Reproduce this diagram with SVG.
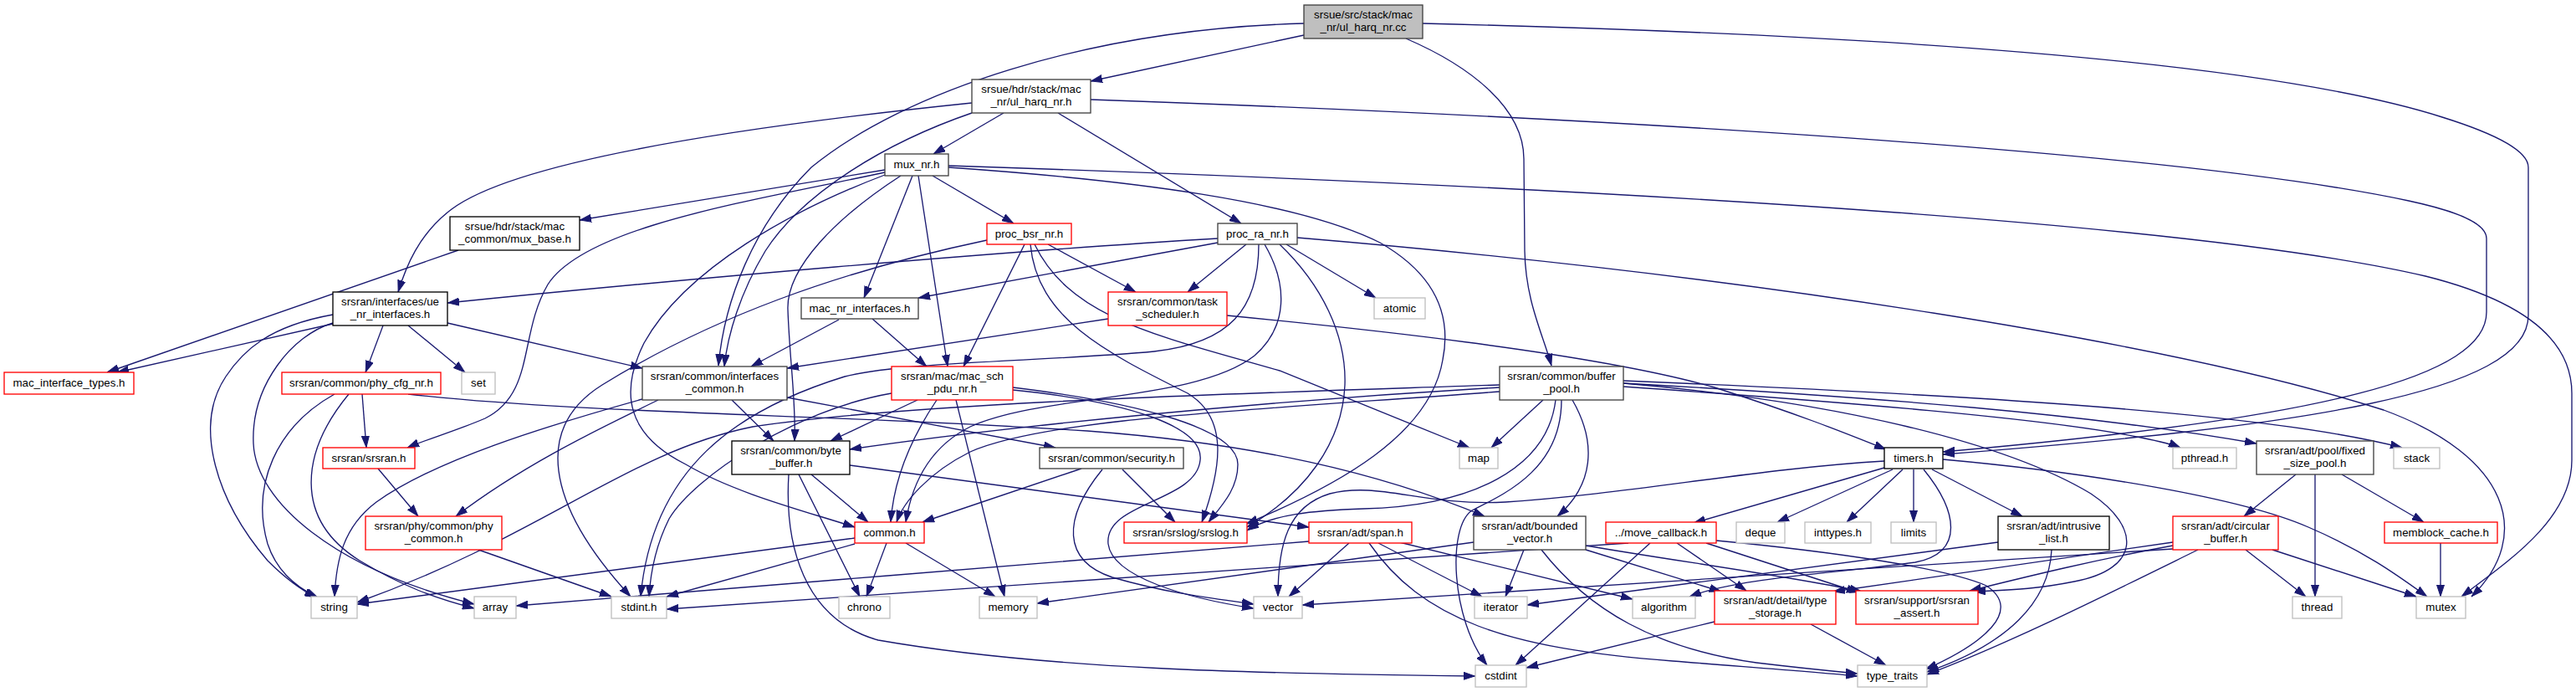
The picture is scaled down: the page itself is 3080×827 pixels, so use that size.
<svg xmlns="http://www.w3.org/2000/svg" width="3080" height="827" viewBox="0 0 3080 827">
<defs>
<style>
.n rect{fill:#fff;stroke:#404040;stroke-width:1.33}
.k rect{stroke:#000}
.r rect{stroke:#f00}
.g rect{stroke:#bfbfbf}
.root rect{fill:#bfbfbf;stroke:#404040}
text{font-family:"Liberation Sans",Arial,Helvetica,sans-serif;font-size:13.33px;text-anchor:middle;fill:#000}
#edges path{fill:none;stroke:#191970;stroke-width:1.33;marker-end:url(#ah)}
</style>
<marker id="ah" markerWidth="14" markerHeight="10" refX="14" refY="5" orient="auto" markerUnits="userSpaceOnUse"><path d="M0,0.5 L13.5,5 L0,9.5 Z" fill="#191970" stroke="#191970" stroke-width="1"/></marker>
</defs>
<rect width="3080" height="827" fill="#fff"/>
<g id="edges">
<path d="M1559,42 L1304,97"/>
<path d="M1559,28 C1300,35 1080,110 970,200 C900,270 866,360 859,437"/>
<path d="M1681,46 C1760,80 1822,130 1822,190 L1823,300 C1824,360 1845,400 1855,437"/>
<path d="M1701,28 C2200,40 2700,70 2920,140 C3000,165 3023,185 3023,200 L3023,377 C3023,470 2750,510 2323,543"/>
<path d="M1200,135 L1116,184"/>
<path d="M1265,135 L1484,267"/>
<path d="M1162,123 C900,150 620,190 540,250 C500,280 485,320 476,349"/>
<path d="M1162,135 C1060,170 960,230 915,300 C885,350 870,400 866,438"/>
<path d="M1304,119 C1900,140 2600,180 2880,240 C2950,255 2973,270 2973,285 L2973,373 C2973,450 2780,500 2323,540"/>
<path d="M1058,203 L693,263"/>
<path d="M1058,206 C900,240 700,270 655,340 C620,400 640,470 580,500 C545,515 510,525 487,535"/>
<path d="M1058,209 C950,250 820,320 770,410 C740,470 750,520 820,555 C880,590 960,610 1022,630"/>
<path d="M1077,210 C1000,260 940,320 942,370 C944,430 952,480 950,527"/>
<path d="M1091,210 L1033,356"/>
<path d="M1098,210 L1133,438"/>
<path d="M1115,210 L1212,267"/>
<path d="M1134,200 C1350,215 1550,240 1650,290 C1720,330 1735,380 1725,430 C1710,520 1600,580 1490,626"/>
<path d="M1134,198 C1800,220 2600,260 2900,330 C3040,365 3075,420 3075,470 L3075,550 C3075,620 3000,670 2943,713"/>
<path d="M1253,292 L1358,349"/>
<path d="M1225,292 L1152,438"/>
<path d="M1180,287 C1000,325 850,380 720,460 C640,510 650,600 754,713"/>
<path d="M1237,292 C1280,380 1380,400 1530,443 L1757,535"/>
<path d="M1232,292 C1240,380 1320,420 1420,470 C1470,500 1460,560 1437,624"/>
<path d="M1490,292 L1420,349"/>
<path d="M1456,290 L1098,356"/>
<path d="M1456,285 C1200,300 800,335 535,362"/>
<path d="M1538,292 L1645,356"/>
<path d="M1551,284 C2100,330 2600,410 2850,490 C3000,545 3030,640 2955,713"/>
<path d="M1505,292 C1505,370 1470,410 1380,420 C1250,432 1080,432 1010,450 C880,490 780,560 766,713"/>
<path d="M1512,292 C1540,340 1540,390 1500,425 C1430,480 1250,470 1160,510 C1110,535 1090,580 1083,624"/>
<path d="M1530,292 C1580,340 1610,400 1608,460 C1605,530 1560,590 1491,630"/>
<path d="M1325,381 L941,440"/>
<path d="M1467,377 C1600,390 1900,420 2050,463 C2150,495 2200,515 2255,537"/>
<path d="M1003,382 L898,438"/>
<path d="M1043,381 L1108,438"/>
<path d="M548,299 L128,445"/>
<path d="M398,387 L140,445"/>
<path d="M398,376 C320,390 290,420 270,450 C230,510 260,600 320,670 C340,690 360,705 378,714"/>
<path d="M398,386 C350,400 300,460 303,530 C306,600 400,680 567,722"/>
<path d="M458,389 L437,445"/>
<path d="M488,389 L556,445"/>
<path d="M535,386 L768,440"/>
<path d="M433,471 L438,535"/>
<path d="M400,471 C330,510 300,580 320,650 C330,680 350,700 380,714"/>
<path d="M417,471 C360,540 350,620 430,670 C480,700 520,715 567,727"/>
<path d="M488,471 C700,495 1000,495 1300,515 C1500,530 1650,565 1775,617"/>
<path d="M875,478 L925,527"/>
<path d="M787,478 C700,520 620,560 545,617"/>
<path d="M768,477 C650,510 520,550 450,600 C410,630 402,670 400,713"/>
<path d="M941,475 L1262,535"/>
<path d="M452,560 L500,617"/>
<path d="M572,657 L731,713"/>
<path d="M970,567 L1038,624"/>
<path d="M955,567 L1028,713"/>
<path d="M943,567 C938,650 960,740 1050,765 C1250,800 1500,805 1764,808"/>
<path d="M1016,556 L1565,630"/>
<path d="M1022,643 L427,722"/>
<path d="M1022,650 L797,713"/>
<path d="M1060,649 L1036,713"/>
<path d="M1083,649 L1190,713"/>
<path d="M1120,478 C1085,530 1068,580 1065,624"/>
<path d="M1143,478 L1201,713"/>
<path d="M1097,478 L993,527"/>
<path d="M1066,470 C950,490 830,570 800,620 C785,650 778,680 776,713"/>
<path d="M1211,463 C1350,480 1480,510 1480,555 C1480,585 1460,605 1445,624"/>
<path d="M1211,466 C1350,480 1440,510 1435,550 C1430,600 1320,600 1325,650 C1330,690 1420,715 1499,727"/>
<path d="M1293,560 L1103,624"/>
<path d="M1342,561 L1405,624"/>
<path d="M1318,561 C1270,620 1270,670 1330,690 C1400,710 1450,715 1499,722"/>
<path d="M1793,460 C1500,470 1100,480 900,510 C750,540 650,640 427,720"/>
<path d="M1793,463 C1500,480 1200,510 1016,537"/>
<path d="M1793,468 C1500,490 1250,500 1160,540 C1110,565 1080,600 1072,624"/>
<path d="M1860,478 C1850,560 1760,605 1630,608 C1570,610 1520,615 1491,634"/>
<path d="M1845,478 L1783,535"/>
<path d="M1867,478 C1867,560 1800,590 1760,610 C1730,630 1735,740 1778,795"/>
<path d="M1880,478 C1910,530 1905,580 1862,617"/>
<path d="M1941,462 C2200,480 2450,500 2560,523 C2580,527 2595,530 2607,535"/>
<path d="M1941,458 C2250,475 2500,495 2698,530"/>
<path d="M1941,455 C2300,470 2700,490 2872,535"/>
<path d="M1941,458 C2200,480 2400,530 2500,590 C2560,630 2560,680 2480,695 C2430,705 2400,705 2360,707"/>
<path d="M1565,647 C1300,670 900,700 617,724"/>
<path d="M1613,649 L1541,713"/>
<path d="M1648,649 L1772,713"/>
<path d="M1673,648 L1952,716"/>
<path d="M1637,649 C1700,740 1800,775 2000,790 C2100,798 2170,803 2221,808"/>
<path d="M1822,657 L1800,713"/>
<path d="M1843,657 C1900,730 1980,775 2100,792 C2150,798 2190,802 2221,805"/>
<path d="M1896,657 L2058,707"/>
<path d="M1896,652 C2000,670 2150,690 2226,707"/>
<path d="M1762,648 L1240,721"/>
<path d="M1973,649 L1812,795"/>
<path d="M2005,649 L2088,706"/>
<path d="M2040,649 L2222,708"/>
<path d="M2052,646 C2200,660 2330,680 2375,700 C2420,730 2370,770 2302,800"/>
<path d="M1947,649 L797,728"/>
<path d="M2253,559 L2025,625"/>
<path d="M2263,561 L2125,624"/>
<path d="M2275,561 L2208,624"/>
<path d="M2288,561 L2288,624"/>
<path d="M2310,561 L2418,617"/>
<path d="M2300,561 C2340,610 2350,660 2290,672 C2200,685 2080,690 2020,713"/>
<path d="M2253,551 C2100,560 1950,590 1800,600 C1700,605 1650,575 1590,590 C1540,605 1528,650 1528,713"/>
<path d="M2323,549 C2500,565 2680,595 2760,630 C2830,660 2870,690 2902,713"/>
<path d="M2453,657 C2450,720 2400,770 2304,803"/>
<path d="M2389,648 L1826,723"/>
<path d="M2165,746 L2255,795"/>
<path d="M2050,743 L1825,798"/>
<path d="M2745,567 L2683,617"/>
<path d="M2768,567 L2768,713"/>
<path d="M2800,567 L2898,624"/>
<path d="M2918,649 L2918,713"/>
<path d="M2685,657 L2757,713"/>
<path d="M2717,657 L2889,713"/>
<path d="M2598,648 L2192,707"/>
<path d="M2598,652 C2500,670 2420,690 2355,706"/>
<path d="M2628,657 C2520,710 2400,770 2304,806"/>
<path d="M2598,656 L1557,723"/>
</g>
<g id="nodes">
<g id="n0" class="n root"><rect x="1559" y="6" width="142" height="40"/><text x="1630" y="22">srsue/src/stack/mac</text><text x="1630" y="37">_nr/ul_harq_nr.cc</text></g>
<g id="n1" class="n"><rect x="1162" y="95" width="142" height="40"/><text x="1233" y="111">srsue/hdr/stack/mac</text><text x="1233" y="126">_nr/ul_harq_nr.h</text></g>
<g id="n2" class="n"><rect x="1058" y="184" width="76" height="26"/><text x="1096" y="201">mux_nr.h</text></g>
<g id="n3" class="n r"><rect x="1180" y="267" width="101" height="25"/><text x="1230.5" y="284">proc_bsr_nr.h</text></g>
<g id="n4" class="n"><rect x="1456" y="267" width="95" height="25"/><text x="1503.5" y="284">proc_ra_nr.h</text></g>
<g id="n5" class="n r"><rect x="1325" y="349" width="142" height="40"/><text x="1396" y="365">srsran/common/task</text><text x="1396" y="380">_scheduler.h</text></g>
<g id="n6" class="n"><rect x="958" y="356" width="140" height="25"/><text x="1028" y="373">mac_nr_interfaces.h</text></g>
<g id="n7" class="n k"><rect x="538" y="259" width="155" height="40"/><text x="615.5" y="275">srsue/hdr/stack/mac</text><text x="615.5" y="290">_common/mux_base.h</text></g>
<g id="n8" class="n k"><rect x="398" y="349" width="137" height="40"/><text x="466.5" y="365">srsran/interfaces/ue</text><text x="466.5" y="380">_nr_interfaces.h</text></g>
<g id="n9" class="n g"><rect x="1643" y="356" width="61" height="25"/><text x="1673.5" y="373">atomic</text></g>
<g id="n10" class="n r"><rect x="5" y="445" width="155" height="26"/><text x="82.5" y="462">mac_interface_types.h</text></g>
<g id="n11" class="n r"><rect x="337" y="445" width="190" height="26"/><text x="432" y="462">srsran/common/phy_cfg_nr.h</text></g>
<g id="n12" class="n g"><rect x="552" y="445" width="40" height="26"/><text x="572" y="462">set</text></g>
<g id="n13" class="n"><rect x="768" y="438" width="173" height="40"/><text x="854.5" y="454">srsran/common/interfaces</text><text x="854.5" y="469">_common.h</text></g>
<g id="n14" class="n r"><rect x="386" y="535" width="110" height="25"/><text x="441" y="552">srsran/srsran.h</text></g>
<g id="n15" class="n r"><rect x="437" y="617" width="163" height="40"/><text x="518.5" y="633">srsran/phy/common/phy</text><text x="518.5" y="648">_common.h</text></g>
<g id="n16" class="n g"><rect x="372" y="713" width="55" height="26"/><text x="399.5" y="730">string</text></g>
<g id="n17" class="n g"><rect x="567" y="713" width="50" height="26"/><text x="592" y="730">array</text></g>
<g id="n18" class="n g"><rect x="731" y="713" width="66" height="26"/><text x="764" y="730">stdint.h</text></g>
<g id="n19" class="n k"><rect x="875" y="527" width="141" height="40"/><text x="945.5" y="543">srsran/common/byte</text><text x="945.5" y="558">_buffer.h</text></g>
<g id="n20" class="n r"><rect x="1022" y="624" width="83" height="25"/><text x="1063.5" y="641">common.h</text></g>
<g id="n21" class="n g"><rect x="1003" y="713" width="61" height="26"/><text x="1033.5" y="730">chrono</text></g>
<g id="n22" class="n r"><rect x="1066" y="438" width="145" height="40"/><text x="1138.5" y="454">srsran/mac/mac_sch</text><text x="1138.5" y="469">_pdu_nr.h</text></g>
<g id="n23" class="n"><rect x="1243" y="535" width="172" height="25"/><text x="1329" y="552">srsran/common/security.h</text></g>
<g id="n24" class="n r"><rect x="1344" y="624" width="147" height="25"/><text x="1417.5" y="641">srsran/srslog/srslog.h</text></g>
<g id="n25" class="n g"><rect x="1171" y="713" width="69" height="26"/><text x="1205.5" y="730">memory</text></g>
<g id="n26" class="n g"><rect x="1499" y="713" width="58" height="26"/><text x="1528" y="730">vector</text></g>
<g id="n27" class="n"><rect x="1793" y="438" width="148" height="40"/><text x="1867" y="454">srsran/common/buffer</text><text x="1867" y="469">_pool.h</text></g>
<g id="n28" class="n g"><rect x="1745" y="535" width="46" height="25"/><text x="1768" y="552">map</text></g>
<g id="n29" class="n r"><rect x="1565" y="624" width="123" height="25"/><text x="1626.5" y="641">srsran/adt/span.h</text></g>
<g id="n30" class="n"><rect x="1762" y="617" width="134" height="40"/><text x="1829" y="633">srsran/adt/bounded</text><text x="1829" y="648">_vector.h</text></g>
<g id="n31" class="n r"><rect x="1920" y="624" width="132" height="25"/><text x="1986" y="641">../move_callback.h</text></g>
<g id="n32" class="n g"><rect x="1763" y="713" width="63" height="26"/><text x="1794.5" y="730">iterator</text></g>
<g id="n33" class="n g"><rect x="1952" y="713" width="75" height="26"/><text x="1989.5" y="730">algorithm</text></g>
<g id="n34" class="n g"><rect x="1764" y="795" width="61" height="26"/><text x="1794.5" y="812">cstdint</text></g>
<g id="n35" class="n k"><rect x="2253" y="535" width="70" height="25"/><text x="2288" y="552">timers.h</text></g>
<g id="n36" class="n g"><rect x="2076" y="624" width="58" height="25"/><text x="2105" y="641">deque</text></g>
<g id="n37" class="n g"><rect x="2158" y="624" width="79" height="25"/><text x="2197.5" y="641">inttypes.h</text></g>
<g id="n38" class="n g"><rect x="2261" y="624" width="54" height="25"/><text x="2288" y="641">limits</text></g>
<g id="n39" class="n k"><rect x="2389" y="617" width="133" height="40"/><text x="2455.5" y="633">srsran/adt/intrusive</text><text x="2455.5" y="648">_list.h</text></g>
<g id="n40" class="n r"><rect x="2050" y="706" width="145" height="40"/><text x="2122.5" y="722">srsran/adt/detail/type</text><text x="2122.5" y="737">_storage.h</text></g>
<g id="n41" class="n r"><rect x="2219" y="706" width="146" height="40"/><text x="2292" y="722">srsran/support/srsran</text><text x="2292" y="737">_assert.h</text></g>
<g id="n42" class="n g"><rect x="2221" y="795" width="83" height="26"/><text x="2262.5" y="812">type_traits</text></g>
<g id="n43" class="n g"><rect x="2598" y="535" width="76" height="25"/><text x="2636" y="552">pthread.h</text></g>
<g id="n44" class="n"><rect x="2698" y="527" width="140" height="40"/><text x="2768" y="543">srsran/adt/pool/fixed</text><text x="2768" y="558">_size_pool.h</text></g>
<g id="n45" class="n g"><rect x="2862" y="535" width="55" height="25"/><text x="2889.5" y="552">stack</text></g>
<g id="n46" class="n r"><rect x="2598" y="617" width="126" height="40"/><text x="2661" y="633">srsran/adt/circular</text><text x="2661" y="648">_buffer.h</text></g>
<g id="n47" class="n r"><rect x="2851" y="624" width="135" height="25"/><text x="2918.5" y="641">memblock_cache.h</text></g>
<g id="n48" class="n g"><rect x="2741" y="713" width="59" height="26"/><text x="2770.5" y="730">thread</text></g>
<g id="n49" class="n g"><rect x="2889" y="713" width="59" height="26"/><text x="2918.5" y="730">mutex</text></g>
</g>
</svg>
